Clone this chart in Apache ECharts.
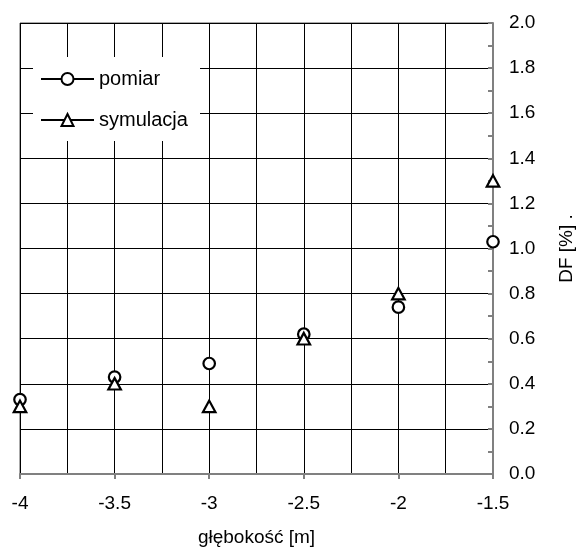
<!DOCTYPE html>
<html>
<head>
<meta charset="utf-8">
<script src="https://cdn.jsdelivr.net/npm/echarts@6/dist/echarts.min.js"></script>
<style>
html,body{margin:0;padding:0;background:#fff;}
#c{width:578px;height:552px;}
</style>
</head>
<body>
<div id="c"></div>
<script>
const depth = [-4, -3.5, -3, -2.5, -2, -1.5];
const pomiar = [0.33, 0.43, 0.49, 0.62, 0.74, 1.03];
const symulacja = [0.30, 0.40, 0.30, 0.60, 0.80, 1.30];
const seriesNames = ['pomiar', 'symulacja'];
const xName = 'głębokość [m]';
const yName = 'DF [%] .';

const font = 'Liberation Sans, Arial, sans-serif';
const chart = echarts.init(document.getElementById('c'));
const pts = vals => depth.map((d, i) => [d, vals[i]]);

chart.setOption({
  animation: false,
  backgroundColor: '#fff',
  grid: { left: 20, right: 85, top: 23, bottom: 78, containLabel: false, outerBoundsMode: 'none',
          show: true, borderColor: '#555', borderWidth: 1 },
  xAxis: {
    type: 'value', min: -4, max: -1.5, interval: 0.5,
    axisLine: { show: true, onZero: false, lineStyle: { color: '#808080', width: 2 } },
    axisTick: { show: true, inside: false, length: 5, lineStyle: { color: '#808080', width: 2 } },
    minorTick: { show: false, splitNumber: 2 },
    splitLine: { show: true, lineStyle: { color: '#000', width: 1 } },
    minorSplitLine: { show: true, lineStyle: { color: '#000', width: 1 } },
    axisLabel: { color: '#000', fontFamily: font, fontSize: 19, margin: 20 },
    name: xName, nameLocation: 'middle', nameGap: 54,
    nameTextStyle: { color: '#000', fontFamily: font, fontSize: 19 }
  },
  yAxis: {
    type: 'value', position: 'right', min: 0, max: 2, interval: 0.2,
    axisLine: { show: true, onZero: false, lineStyle: { color: '#808080', width: 2 } },
    axisTick: { show: true, inside: true, length: 5, lineStyle: { color: '#808080', width: 2 } },
    minorTick: { show: true, splitNumber: 2, length: 5, lineStyle: { color: '#808080', width: 2 } },
    splitLine: { show: true, lineStyle: { color: '#000', width: 1 } },
    axisLabel: { color: '#000', fontFamily: font, fontSize: 19, margin: 16, inside: false,
                 formatter: v => v.toFixed(1) },
    name: yName, nameLocation: 'middle', nameRotate: 90, nameGap: 64,
    nameTextStyle: { color: '#000', fontFamily: font, fontSize: 19 }
  },
  graphic: [{
    type: 'rect', z: 3, shape: { x: 33, y: 57, width: 167, height: 84 },
    style: { fill: '#fff' }, silent: true
  }],
  legend: {
    z: 10, orient: 'vertical', left: 40, top: 69, padding: 0,
    itemWidth: 53, itemHeight: 15, itemGap: 21,
    lineStyle: { color: '#000', width: 2, opacity: 1 },
    textStyle: { color: '#000', fontFamily: font, fontSize: 20 },
    data: seriesNames
  },
  series: [
    {
      name: seriesNames[0], type: 'line', data: pts(pomiar), clip: false,
      symbol: 'circle', symbolSize: 11.5, z: 3,
      lineStyle: { width: 0, opacity: 0 },
      itemStyle: { color: '#fff', borderColor: '#000', borderWidth: 2.2 }
    },
    {
      name: seriesNames[1], type: 'line', data: pts(symulacja), clip: false,
      symbol: 'triangle', symbolSize: [12.5, 11.5], z: 4,
      lineStyle: { width: 0, opacity: 0 },
      itemStyle: { color: '#fff', borderColor: '#000', borderWidth: 2.2 }
    }
  ]
});
</script>
</body>
</html>
